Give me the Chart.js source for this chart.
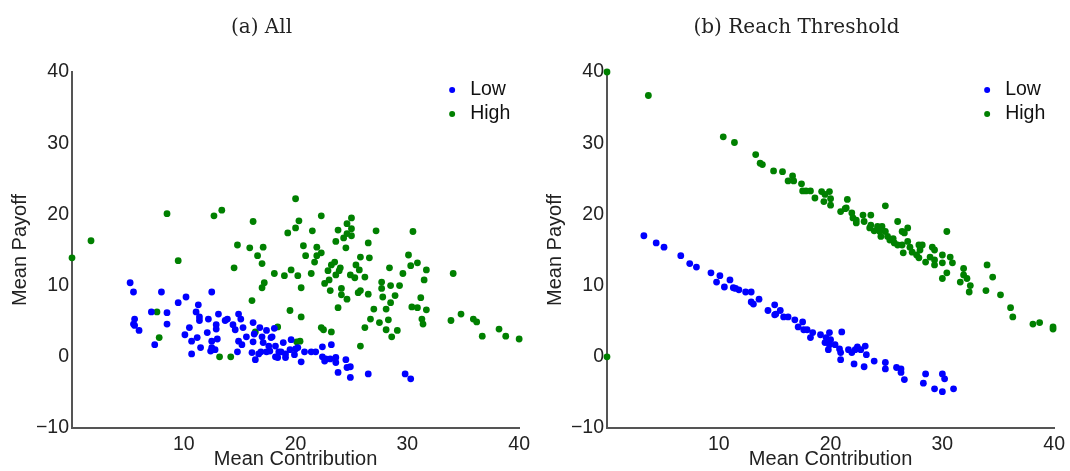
<!DOCTYPE html>
<html>
<head>
<meta charset="utf-8">
<script src="https://cdn.jsdelivr.net/npm/chart.js@4.4.1/dist/chart.umd.min.js"></script>
<style>
  body { margin: 0; background: #fff; }
  .panel { position: absolute; top: 0; width: 535px; height: 471px; }
</style>
</head>
<body>
<div class="panel" style="left:0"><canvas id="chartAll" width="535" height="471"></canvas></div>
<div class="panel" style="left:535px"><canvas id="chartReach" width="535" height="471"></canvas></div>
<script>
const seriesNames = ['Low', 'High'];
const seriesColors = ['#0000ff', '#008000'];
const panelTitles = ['(a) All', '(b) Reach Threshold'];
const xLabel = 'Mean Contribution';
const yLabel = 'Mean Payoff';

// panel (a): [mean contribution, mean payoff]
const allLow = [
    [5.2,10.4],[5.5,9.1],[8.0,9.1],[12.5,9.1],[10.2,8.4],[9.5,7.6],[11.3,7.3],[11.1,6.3],[7.1,6.3],[8.5,6.2],
    [11.4,5.6],[11.4,5.1],[12.2,5.3],[13.1,6.0],[13.7,5.1],[13.9,5.3],[14.9,6.0],[15.1,5.3],[5.6,5.3],[5.5,4.6],
    [5.6,4.4],[6.0,3.7],[8.5,4.6],[7.4,1.7],[10.5,4.1],[10.1,3.1],[10.7,2.2],[10.7,0.4],[11.5,1.3],[11.2,2.7],
    [12.1,3.4],[12.9,4.5],[12.9,3.9],[12.5,2.2],[13.0,2.5],[12.5,1.3],[12.8,1.0],[12.4,0.8],[14.4,4.5],[14.6,3.8],
    [15.3,4.1],[15.6,2.8],[14.9,2.2],[15.2,1.7],[14.8,0.7],[16.2,4.8],[16.8,4.1],[17.4,3.7],[16.3,3.2],[16.2,2.1],
    [17.0,2.8],[18.1,4.0],[17.8,2.7],[16.1,0.6],[16.4,-0.4],[16.7,0.4],[16.9,0.7],[17.4,0.7],[17.7,0.8],[17.1,2.0],
    [18.2,1.5],[18.2,0],[18.7,0.7],[18.9,2.0],[19.1,0.4],[19.1,-0.1],[19.6,2.4],[19.5,1.0],[19.9,0.3],[20.2,1.3],
    [20.5,-0.7],[20.8,0.7],[21.4,0.7],[21.8,0.7],[22.4,1.4],[22.4,0],[22.7,-0.3],[23.1,-0.3],[23.6,-0.1],[23.8,-2.2],
    [18.4,-0.1],[18.5,0.7],[17.6,1.5],[17.9,2.8],[20.0,1.1],[23.2,1.7],[22.6,-0.6],[23.6,-0.8],[24.5,-0.4],[24.6,-1.5],
    [24.9,-1.4],[24.9,-2.9],[26.5,-2.4],[29.8,-2.4],[30.3,-3.1]
];
const allHigh = [
    [0,13.9],[1.7,16.3],[8.5,20.1],[12.7,19.8],[13.4,20.6],[16.2,19.0],[9.5,13.5],[7.6,6.3],[7.8,2.7],[13.2,0],[14.2,0],
    [14.8,15.7],[15.9,15.3],[17.1,15.4],[16.6,14.2],[17.0,13.1],[14.5,12.5],[17.2,10.4],[17.0,9.7],[16.1,7.9],[16.4,3.5],[18.4,4.2],
    [20.0,22.2],[20.3,19.1],[22.3,19.8],[20.0,18.1],[19.3,17.4],[21.5,17.7],[20.7,15.6],[21.9,15.4],[20.9,14.2],[22.3,14.6],
    [21.9,14.2],[21.7,13.3],[18.1,11.7],[19.0,11.4],[19.6,12.2],[20.2,11.4],[21.4,11.7],[20.5,9.7],[22.6,10.3],[19.5,6.5],
    [20.5,5.6],[20.4,2.2],[20.1,2.1],[22.3,4.1],[22.5,3.8],[23.8,17.8],[23.6,16.2],[23.5,13.3],[23.2,12.9],[22.9,12.1],
    [23.6,11.5],[23.0,10.8],[23.1,9.3],[23.8,6.9],[23.2,3.5],[25.0,19.5],[24.6,18.7],[25.0,18.0],[24.6,17.3],[25.0,17.0],
    [24.3,16.7],[27.2,17.7],[30.5,17.6],[26.5,16.0],[24.5,15.3],[30.1,14.3],[25.8,14.0],[26.6,13.9],[28.4,12.5],[30.3,12.8],
    [30.9,13.2],[31.7,12.2],[29.6,11.7],[25.4,12.9],[25.7,12.2],[24.0,12.5],[23.9,12.1],[24.9,11.5],[25.3,11.1],[26.2,11.2],
    [31.5,10.8],[34.1,11.7],[27.7,10.5],[28.5,10.0],[29.3,10.0],[27.7,9.6],[28.9,8.6],[27.8,8.4],[26.5,8.8],[25.8,9.3],
    [25.6,9.0],[24.1,9.6],[24.1,8.7],[24.6,8.1],[31.2,8.3],[28.5,7.6],[28.1,6.7],[27.0,6.7],[30.4,7.0],[30.9,6.9],
    [31.7,6.6],[34.8,6.0],[33.9,5.1],[35.9,5.3],[36.2,4.9],[31.3,5.3],[31.4,4.6],[28.3,5.2],[27.5,4.8],[26.7,5.3],
    [26.2,4.1],[28.1,3.8],[29.1,3.7],[28.6,2.8],[36.7,2.9],[38.2,3.9],[38.8,2.9],[40.0,2.5],[25.8,1.5]
];

// panel (b)
const reachLow = [
    [3.3,17.0],[4.4,16.0],[5.1,15.4],[6.6,14.2],[7.4,13.1],[8.0,12.6],[9.3,11.8],[10.1,11.4],[11.0,10.8],[9.8,10.5],
    [10.5,9.8],[11.3,9.7],[11.5,9.6],[11.8,9.4],[12.4,9.1],[12.9,9.1],[13.6,8.1],[12.9,7.7],[13.1,7.4],[14.4,6.5],
    [15.0,7.3],[15.1,6.0],[15.5,6.5],[15.8,5.6],[16.2,5.6],[16.8,5.2],[17.5,4.9],[17.1,4.2],[17.6,3.8],[17.9,3.8],
    [18.4,3.4],[18.2,2.7],[19.1,3.1],[19.6,2.7],[19.9,3.4],[20.0,2.4],[20.4,1.7],[19.9,1.7],[19.5,2.0],[21.0,3.5],
    [20.8,1.1],[20.9,0.6],[20.9,-0.4],[21.6,1.0],[21.9,0.6],[22.2,1.0],[22.4,1.4],[22.7,1.0],[23.1,1.5],[23.2,0.3],
    [22.1,-1.0],[23.0,-1.4],[23.9,-0.6],[24.9,-0.8],[24.9,-1.7],[25.9,-1.5],[26.3,-1.7],[26.3,-2.2],[26.6,-3.2],[28.5,-2.4],
    [28.3,-3.7],[30.0,-2.4],[30.2,-3.1],[29.3,-4.5],[30.0,-4.9],[31.0,-4.5],[19.8,1.0],[15.0,5.9]
];
const reachHigh = [
    [0,40],[3.7,36.7],[10.4,30.9],[11.4,30.1],[13.3,28.4],[13.7,27.2],[13.9,27.0],[14.9,26.1],[15.7,26.0],[16.6,25.4],
    [16.2,24.7],[16.7,24.7],[17.4,24.3],[17.5,23.3],[17.8,23.3],[18.2,23.3],[18.6,22.3],[19.2,23.2],[19.5,22.8],[19.9,23.2],
    [20.0,22.2],[19.4,21.8],[20.0,21.3],[21.5,22.1],[21.3,20.8],[20.9,20.4],[21.9,20.2],[22.0,19.5],[22.3,19.2],[22.3,18.8],
    [22.9,19.9],[23.6,19.9],[23.0,19.0],[23.6,18.5],[23.5,18.1],[23.9,17.7],[24.2,18.3],[24.6,18.3],[24.9,21.2],[24.4,17.6],
    [24.5,16.9],[24.9,17.6],[25.1,16.9],[26.0,19.0],[25.6,16.6],[26.4,17.6],[26.9,18.1],[26.6,17.4],[25.7,16.0],[26.0,15.7],
    [26.4,15.7],[26.9,16.2],[27.1,15.4],[26.5,14.6],[27.3,14.7],[27.9,15.7],[28.2,15.7],[28.0,15.0],[29.1,15.4],[29.3,15.0],
    [30.4,17.6],[27.7,14.3],[27.9,13.9],[28.5,13.3],[28.9,14.0],[29.3,13.6],[29.3,12.9],[30.0,14.3],[30.0,13.2],[30.7,14.0],
    [30.9,13.2],[30.4,11.8],[30.0,11.0],[31.9,12.4],[31.9,11.5],[31.6,10.5],[32.2,11.0],[32.5,10.0],[32.4,9.1],[34.0,12.9],
    [34.5,11.2],[33.9,9.3],[35.2,8.7],[36.1,6.9],[36.3,5.6],[38.1,4.6],[38.7,4.8],[39.9,4.2],[39.9,3.9],[0,0],
    [21.4,20.9],[25.3,16.4]
];

const sans = "'Liberation Sans', Arial, sans-serif";

// legend drawn inside the plot, top right, stacked
const innerLegend = {
    id: 'innerLegend',
    afterDraw(chart) {
        const ctx = chart.ctx;
        const right = chart.chartArea.right;
        ctx.save();
        ctx.font = '19.5px ' + sans;
        ctx.textBaseline = 'middle';
        chart.data.datasets.forEach((ds, i) => {
            const y = 90 + i * 24;
            ctx.fillStyle = ds.backgroundColor;
            ctx.beginPath();
            ctx.arc(right - 67, y, 3, 0, Math.PI * 2);
            ctx.fill();
            ctx.fillStyle = '#111';
            ctx.fillText(ds.label, right - 49, y);
        });
        ctx.restore();
    }
};

function makePanel(id, title, low, high) {
    const toPts = arr => arr.map(p => ({ x: p[0], y: p[1] }));
    return new Chart(document.getElementById(id), {
        type: 'scatter',
        data: {
            datasets: [low, high].map((arr, i) => ({
                label: seriesNames[i],
                data: toPts(arr),
                backgroundColor: seriesColors[i],
                borderWidth: 0,
                pointRadius: 3.4,
                clip: false
            }))
        },
        options: {
            responsive: false,
            animation: false,
            devicePixelRatio: 1,
            layout: { padding: { left: 0, right: 12, top: 0, bottom: 0 } },
            plugins: {
                legend: { display: false },
                tooltip: { enabled: false },
                title: {
                    display: true,
                    text: title,
                    color: '#222',
                    font: { family: "'DejaVu Serif', 'Liberation Serif', serif", size: 20, weight: 'normal' },
                    padding: { top: 16, bottom: 32 }
                }
            },
            scales: {
                x: {
                    min: 0, max: 40,
                    grid: { display: false, drawTicks: false },
                    border: { color: '#555', width: 2 },
                    ticks: {
                        stepSize: 10, padding: 5, color: '#222',
                        font: { family: sans, size: 19.5 },
                        maxRotation: 0,
                        callback: v => v === 0 ? '' : v
                    },
                    title: { display: true, text: xLabel, color: '#222', font: { family: sans, size: 20 }, padding: { top: 0, bottom: 0 } },
                    afterFit: s => { s.height = 43; }
                },
                y: {
                    min: -10, max: 40,
                    grid: { display: false, drawTicks: false },
                    border: { color: '#555', width: 2 },
                    ticks: {
                        stepSize: 10, padding: 3, color: '#222',
                        font: { family: sans, size: 19.5 },
                        callback: v => v < 0 ? '\u2212' + Math.abs(v) : v
                    },
                    title: { display: true, text: yLabel, color: '#222', font: { family: sans, size: 20 }, padding: { top: 8, bottom: 0 } },
                    afterFit: s => { s.width = 72; }
                }
            }
        },
        plugins: [innerLegend]
    });
}

makePanel('chartAll', panelTitles[0], allLow, allHigh);
makePanel('chartReach', panelTitles[1], reachLow, reachHigh);
</script>
</body>
</html>
